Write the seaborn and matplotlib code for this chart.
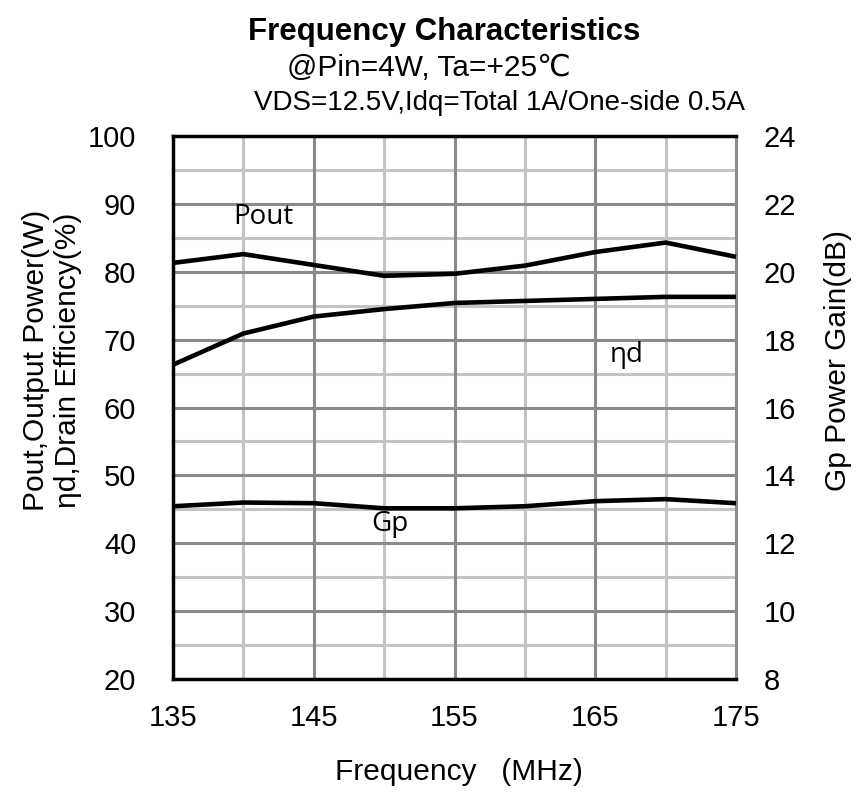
import matplotlib
matplotlib.use("Agg")
import matplotlib.pyplot as plt
import seaborn as sns
import pandas as pd
import numpy as np

freq = [135, 140, 145, 150, 155, 160, 165, 170, 175]
pout = [81.3, 82.6, 81.0, 79.4, 79.7, 80.9, 82.9, 84.3, 82.2]
eta_d = [66.3, 70.9, 73.4, 74.5, 75.4, 75.7, 76.0, 76.3, 76.3]
gp = [13.09, 13.2, 13.18, 13.03, 13.03, 13.09, 13.24, 13.3, 13.18]

x_ticks = [135, 145, 155, 165, 175]
left_ticks = [20, 30, 40, 50, 60, 70, 80, 90, 100]
right_ticks = [8, 10, 12, 14, 16, 18, 20, 22, 24]

df = pd.DataFrame({"freq": freq, "pout": pout, "eta": eta_d, "gp": gp})

sns.set_theme(style="white")
plt.rcParams["font.family"] = ["Liberation Sans", "DejaVu Sans"]
plt.rcParams["text.color"] = "black"
plt.rcParams["axes.labelcolor"] = "black"

fig = plt.figure(figsize=(8.57, 7.95), dpi=100)
ax = fig.add_axes([173/857, 1-679/795, (736-173)/857, (679-136)/795])

ax.set_xlim(135, 175)
ax.set_ylim(20, 100)

dark = "#8a8a8a"
light = "#c4c4c4"
for v in np.arange(25, 100, 10):
    ax.axhline(v, color=light, lw=2.2, zorder=0.5)
for v in np.arange(30, 100, 10):
    ax.axhline(v, color=dark, lw=2.2, zorder=0.6)
for v in [140, 150, 160, 170]:
    ax.axvline(v, color=light, lw=2.2, zorder=0.5)
for v in [145, 155, 165, 175]:
    ax.axvline(v, color=dark, lw=2.2, zorder=0.6)

ax2 = ax.twinx()
ax2.set_ylim(8, 24)

sns.lineplot(data=df, x="freq", y="pout", ax=ax, color="black", lw=3.3, zorder=3)
sns.lineplot(data=df, x="freq", y="eta", ax=ax, color="black", lw=3.3, zorder=3)
sns.lineplot(data=df, x="freq", y="gp", ax=ax2, color="black", lw=3.3, zorder=3)
for l in ax.lines + ax2.lines:
    l.set_clip_on(False)
    l.set_solid_capstyle("butt")

ax.set_xticks(x_ticks)
ax.set_yticks(left_ticks)
ax2.set_yticks(right_ticks)
tick_font = 21
ax.tick_params(axis="both", length=0, labelsize=tick_font, colors="black")
ax.tick_params(axis="x", pad=18)
ax.tick_params(axis="y", pad=26.5)
ax2.tick_params(axis="y", length=0, labelsize=tick_font, pad=20, colors="black")

for sp in ["left", "top", "bottom"]:
    ax.spines[sp].set_color("black")
    ax.spines[sp].set_linewidth(2.5)
ax.spines["right"].set_visible(False)
for sp in ax2.spines.values():
    sp.set_visible(False)
ax.spines["top"].set_zorder(5)

ax.set_xlabel("Frequency   (MHz)", fontsize=21.5)
ax.xaxis.set_label_coords((459 - 173) / 563, (679 - 758) / 543)
ax.set_ylabel("Pout,Output Power(W)\nηd,Drain Efficiency(%)", fontsize=21.5,
              linespacing=1.2)
ax.yaxis.set_label_coords((82 - 173) / 563, (679 - 360) / 543)
ax2.set_ylabel("Gp Power Gain(dB)", fontsize=21.5)
ax2.yaxis.set_label_coords((824 - 173) / 563, (679 - 360) / 543)

ann_font = ["Open Sans", "DejaVu Sans"]
ax.text(141.4, 88.1, "Pout", fontsize=20, family=ann_font, ha="center", va="center", zorder=4)
ax.text(167.2, 67.8, "ηd", fontsize=20, family=ann_font, ha="center", va="center", zorder=4)
ax.text(150.4, 42.8, "Gp", fontsize=20, family=ann_font, ha="center", va="center", zorder=4)

fig.text(444/857, 1-32/795, "Frequency Characteristics", fontsize=22.5, fontweight="bold",
         ha="center", va="center")
fig.text(429/857, 1-68/795, "@Pin=4W, Ta=+25℃", fontsize=21.5, ha="center", va="center")
fig.text(499/857, 1-103/795, "VDS=12.5V,Idq=Total 1A/One-side 0.5A", fontsize=20,
         ha="center", va="center")

fig.savefig("out.png", dpi=100)
